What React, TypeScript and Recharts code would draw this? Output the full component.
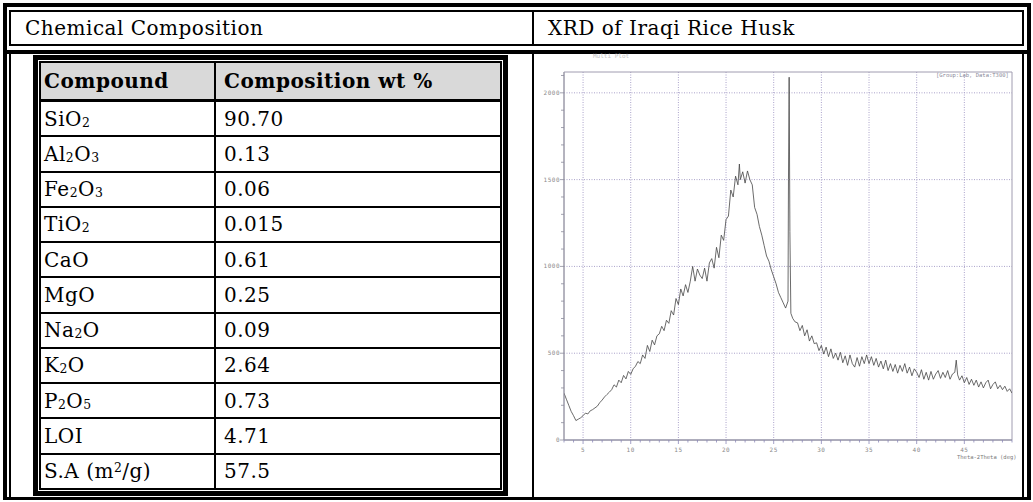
import React from "react";
import { LineChart, Line, XAxis, YAxis, CartesianGrid, ReferenceArea } from "recharts";

// chemical composition table (_n = subscript, ^n = superscript)
const compounds = ["SiO_2", "Al_2O_3", "Fe_2O_3", "TiO_2", "CaO", "MgO", "Na_2O", "K_2O", "P_2O_5", "LOI", "S.A (m^2/g)"];
const composition = ["90.70", "0.13", "0.06", "0.015", "0.61", "0.25", "0.09", "2.64", "0.73", "4.71", "57.5"];

// XRD scan of the rice husk
const twoTheta = [
  3.0, 3.25, 3.5, 3.75, 4.0, 4.25, 4.5, 4.75, 5.0, 5.25,
  5.5, 5.75, 6.0, 6.25, 6.5, 6.75, 7.0, 7.25, 7.5, 7.75,
  8.0, 8.25, 8.5, 8.75, 9.0, 9.25, 9.5, 9.75, 10.0, 10.25,
  10.5, 10.75, 11.0, 11.25, 11.5, 11.75, 12.0, 12.25, 12.5, 12.75,
  13.0, 13.25, 13.5, 13.75, 14.0, 14.25, 14.5, 14.75, 15.0, 15.25,
  15.5, 15.75, 16.0, 16.25, 16.5, 16.75, 17.0, 17.25, 17.5, 17.75,
  18.0, 18.25, 18.5, 18.75, 19.0, 19.25, 19.5, 19.75, 20.0, 20.25,
  20.5, 20.75, 21.0, 21.25, 21.4, 21.5, 21.75, 22.0, 22.25, 22.5,
  22.75, 23.0, 23.25, 23.5, 23.75, 24.0, 24.25, 24.5, 24.75, 25.0,
  25.25, 25.5, 25.75, 26.0, 26.25, 26.5, 26.55, 26.62, 26.7, 26.8,
  27.0, 27.25, 27.5, 27.75, 28.0, 28.25, 28.5, 28.75, 29.0, 29.25,
  29.5, 29.75, 30.0, 30.25, 30.5, 30.75, 31.0, 31.25, 31.5, 31.75,
  32.0, 32.25, 32.5, 32.75, 33.0, 33.25, 33.5, 33.75, 34.0, 34.25,
  34.5, 34.75, 35.0, 35.25, 35.5, 35.75, 36.0, 36.25, 36.5, 36.75,
  37.0, 37.25, 37.5, 37.75, 38.0, 38.25, 38.5, 38.75, 39.0, 39.25,
  39.5, 39.75, 40.0, 40.25, 40.5, 40.75, 41.0, 41.25, 41.5, 41.75,
  42.0, 42.25, 42.5, 42.75, 43.0, 43.25, 43.5, 43.75, 44.0, 44.15,
  44.3, 44.5, 44.75, 45.0, 45.25, 45.5, 45.75, 46.0, 46.25, 46.5,
  46.75, 47.0, 47.25, 47.5, 47.75, 48.0, 48.25, 48.5, 48.75, 49.0,
  49.25, 49.5, 49.75, 50.0,
];
const counts = [
  270, 235, 200, 165, 140, 112, 120, 128, 140, 155,
  150, 168, 175, 185, 195, 215, 230, 248, 262, 275,
  290, 318, 305, 345, 330, 372, 352, 395, 378, 410,
  425, 452, 440, 490, 470, 545, 510, 575, 548, 600,
  612, 655, 630, 690, 672, 745, 720, 815, 780, 870,
  830, 895, 850, 915, 1000, 915, 985, 950, 930, 990,
  915, 1020, 1045, 990, 1110, 1050, 1180, 1150, 1270, 1290,
  1440, 1400, 1520, 1470, 1590, 1500, 1545, 1480, 1550, 1500,
  1470, 1340, 1300, 1230, 1180, 1120, 1060, 1030, 980, 940,
  900, 850, 820, 790, 760, 800, 1500, 2090, 1200, 730,
  700, 680, 675, 630, 660, 600, 635, 570, 600, 555,
  560, 515, 545, 495, 535, 480, 525, 470, 500, 460,
  505, 445, 485, 430, 490, 440, 420, 475, 425, 480,
  440, 490, 440, 480, 430, 470, 420, 455, 410, 460,
  400, 440, 395, 435, 385, 430, 395, 440, 385, 420,
  370, 410, 390, 360, 405, 350, 390, 345, 395, 350,
  380, 400, 355, 390, 360, 400, 350, 380, 390, 460,
  375, 345, 370, 330, 360, 320, 350, 315, 345, 305,
  335, 300, 330, 345, 295, 320, 335, 295, 315, 290,
  310, 280, 295, 270,
];

const xTicks = [3, 4, 5, 6, 7, 8, 9, 10, 11, 12, 13, 14, 15, 16, 17, 18, 19, 20, 21, 22, 23, 24, 25, 26, 27, 28, 29, 30, 31, 32, 33, 34, 35, 36, 37, 38, 39, 40, 41, 42, 43, 44, 45, 46, 47, 48, 49, 50];
const xLabels = [5, 10, 15, 20, 25, 30, 35, 40, 45];
const yTicks = [0, 100, 200, 300, 400, 500, 600, 700, 800, 900, 1000, 1100, 1200, 1300, 1400, 1500, 1600, 1700, 1800, 1900, 2000, 2100];
const yLabels = [0, 500, 1000, 1500, 2000];

const xrdData = twoTheta.map((t, i) => ({ t, c: counts[i] }));

const serif = "'DejaVu Serif', serif";
const mono = "'DejaVu Sans Mono', monospace";

const formula = (s: string) =>
  s.split(/([_^]\d)/).map((p, i) => {
    if (p[0] === "_") return <sub key={i} style={{ fontSize: "0.62em", verticalAlign: "-0.12em", lineHeight: 0 }}>{p.slice(1)}</sub>;
    if (p[0] === "^") return <sup key={i} style={{ fontSize: "0.62em", verticalAlign: "0.5em", lineHeight: 0 }}>{p.slice(1)}</sup>;
    return <React.Fragment key={i}>{p}</React.Fragment>;
  });

const XTick = (props: any) => {
  const { x, y, payload } = props;
  const major = xLabels.includes(payload.value);
  return (
    <g>
      <line x1={x} y1={y} x2={x} y2={y + (major ? 4 : 2.5)} stroke="#8c88b8" strokeWidth={0.8} />
      {major && (
        <text x={x} y={y + 12} textAnchor="middle" fontSize={6} fill="#8a8a8a" fontFamily={mono}>{payload.value}</text>
      )}
    </g>
  );
};

const YTick = (props: any) => {
  const { x, y, payload } = props;
  const major = yLabels.includes(payload.value);
  return (
    <g>
      <line x1={x - (major ? 4 : 3)} y1={y} x2={x} y2={y} stroke="#8c8c9c" strokeWidth={0.8} />
      {major && (
        <text x={x - 4} y={y + 2} textAnchor="end" fontSize={6} fill="#8a8a8a" fontFamily={mono}>{payload.value}</text>
      )}
    </g>
  );
};

const box = (left: number, top: number, width: number, height: number): React.CSSProperties => ({
  position: "absolute", left, top, width, height, background: "#000",
});

const App: React.FC = () => (
  <div style={{ position: "absolute", left: 0, top: 0, width: 1033, height: 502, background: "#fff", fontFamily: serif, letterSpacing: 0.5, overflow: "hidden" }}>
    {/* outer thick frame */}
    <div style={box(3, 3, 1028, 4)} />
    <div style={box(3, 3, 4, 497)} />
    <div style={box(1027, 3, 4, 497)} />
    <div style={box(3, 497, 1028, 3)} />
    {/* header row thin frame */}
    <div style={box(9, 10, 1015, 2)} />
    <div style={box(9, 44, 1015, 2)} />
    <div style={box(9, 10, 2, 36)} />
    <div style={box(1022, 10, 2, 36)} />
    <div style={box(532, 10, 2, 36)} />
    {/* thick separator and body frame */}
    <div style={box(3, 50, 1028, 4)} />
    <div style={box(9, 54, 2, 443)} />
    <div style={box(1022, 54, 2, 443)} />
    <div style={box(532, 54, 2, 443)} />

    <div style={{ position: "absolute", left: 25, top: 13, fontSize: 20, lineHeight: "30px" }}>Chemical Composition</div>
    <div style={{ position: "absolute", left: 548, top: 13, fontSize: 20, lineHeight: "30px" }}>XRD of Iraqi Rice Husk</div>

    {/* composition table */}
    <div style={{ position: "absolute", left: 33, top: 55, width: 475, height: 441, border: "5px solid #000", boxSizing: "border-box" }}>
      <div style={{ position: "absolute", left: 1, top: 1, right: 1, bottom: 1, border: "2px solid #000", display: "flex", flexDirection: "column", fontSize: 20 }}>
        <div style={{ height: 36, display: "flex", borderBottom: "3px solid #000", background: "#d9d9d9", fontWeight: "bold" }}>
          <div style={{ width: 170, borderRight: "2px solid #000", paddingLeft: 3, display: "flex", alignItems: "center" }}>Compound</div>
          <div style={{ flex: 1, paddingLeft: 8, display: "flex", alignItems: "center" }}>Composition wt %</div>
        </div>
        {compounds.map((c, i) => (
          <div key={c} style={{ flex: 1, display: "flex", borderBottom: i < compounds.length - 1 ? "2px solid #000" : "none" }}>
            <div style={{ width: 170, borderRight: "2px solid #000", paddingLeft: 3, display: "flex", alignItems: "center" }}>
              <span>{formula(c)}</span>
            </div>
            <div style={{ flex: 1, paddingLeft: 8, display: "flex", alignItems: "center" }}>{composition[i]}</div>
          </div>
        ))}
      </div>
    </div>

    {/* XRD plot */}
    <div style={{ position: "absolute", left: 593, top: 52, fontSize: 6, fontFamily: mono, letterSpacing: 0, color: "#c4c4c4" }}>Multi Plot</div>
    <div style={{ position: "absolute", left: 534, top: 54, width: 488, height: 443 }}>
      <LineChart width={488} height={443} data={xrdData} margin={{ top: 18, right: 10, bottom: 0, left: 0 }}>
        <CartesianGrid
          stroke="#aaa2ca"
          strokeDasharray="1 1.5"
          verticalValues={xLabels}
          horizontalValues={yLabels.slice(1)}
        />
        <XAxis
          dataKey="t"
          type="number"
          domain={[3, 50]}
          ticks={xTicks}
          interval={0}
          height={57}
          tickSize={0}
          tickMargin={0}
          tickLine={false}
          axisLine={{ stroke: "#8c8ca0" }}
          tick={<XTick />}
          allowDataOverflow
        />
        <YAxis
          type="number"
          domain={[0, 2120]}
          ticks={yTicks}
          interval={0}
          width={30}
          tickSize={0}
          tickMargin={0}
          tickLine={false}
          axisLine={{ stroke: "#9a9aa6" }}
          tick={<YTick />}
          allowDataOverflow
        />
        <ReferenceArea x1={3} x2={50} y1={0} y2={2120} fill="none" stroke="#a09cb0" strokeWidth={1} />
        <Line
          dataKey="c"
          type="linear"
          stroke="#454545"
          strokeWidth={0.8}
          dot={false}
          isAnimationActive={false}
        />
      </LineChart>
    </div>
    <div style={{ position: "absolute", left: 936, top: 72, fontSize: 5.5, fontFamily: mono, letterSpacing: 0, color: "#8a8a9a" }}>[Group:Lab, Data:T300]</div>
    <div style={{ position: "absolute", left: 957, top: 454, fontSize: 5.5, fontFamily: mono, letterSpacing: 0, color: "#7a7a7a" }}>Theta-2Theta (deg)</div>
  </div>
);

export default App;
